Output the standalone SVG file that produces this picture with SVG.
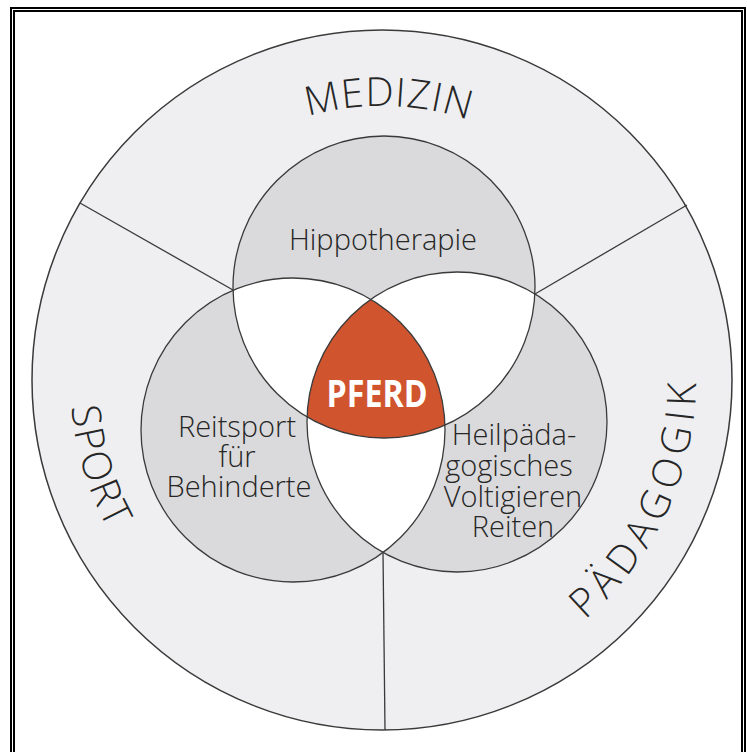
<svg xmlns="http://www.w3.org/2000/svg" width="747" height="752" viewBox="0 0 747 752">
  <style>
    .frame { fill: none; stroke: #000; stroke-width: 2; }
    .outline { fill: none; stroke: #3a3a3a; stroke-width: 1.3; }
    .divider { stroke: #3a3a3a; stroke-width: 1.3; }
    .venn { fill: #dadadc; }
    .overlap { fill: #ffffff; }
    .core { fill: #d0552f; }
    .domain { font-family: "Open Sans", "Noto Sans", "DejaVu Sans", sans-serif; font-weight: 300; font-size: 40px; fill: #262626; }
    .label { font-family: "Open Sans", "Noto Sans", "DejaVu Sans", sans-serif; font-weight: 300; font-size: 29px; fill: #262626; text-anchor: middle; }
    .center { font-family: "Open Sans", "Noto Sans", "DejaVu Sans", sans-serif; font-weight: 700; font-size: 37px; fill: #ffffff; text-anchor: middle; }
  </style>
  <defs>
    <clipPath id="clipA"><circle cx="384" cy="287" r="151"/></clipPath>
    <clipPath id="clipB"><circle cx="293" cy="430" r="152"/></clipPath>
    <!-- baseline arcs for the three domain names, centred on the outer ring -->
    <path id="arcTop" d="M 108,380 A 274 274 0 0 1 656,380"/>
    <path id="arcLeft" d="M 275.3,86.9 A 312 312 0 0 0 275.3,673.1"/>
    <path id="arcRight" d="M 382,694 A 314 314 0 0 0 539,108.1"/>
  </defs>

  <rect x="0" y="0" width="747" height="752" fill="#ffffff"/>

  <!-- double frame, open at the bottom -->
  <polyline class="frame" points="11,752 11,8 745,8 745,752"/>
  <polyline class="frame" points="14,752 14,11 742,11 742,752"/>

  <!-- outer ring -->
  <g id="ring">
    <circle cx="382" cy="380" r="350" fill="#efeff1" stroke="#3a3a3a" stroke-width="1.5"/>
  </g>

  <!-- sector dividers between the three domains -->
  <g id="connectors">
    <line class="divider" x1="80" y1="203" x2="233" y2="290"/>
    <line class="divider" x1="687" y1="205" x2="535" y2="294"/>
    <line class="divider" x1="383" y1="552" x2="385" y2="730"/>
  </g>

  <!-- Venn circles -->
  <g id="venn-fills">
    <circle class="venn" cx="384" cy="287" r="151"/>
    <circle class="venn" cx="293" cy="430" r="152"/>
    <circle class="venn" cx="457" cy="422" r="150"/>
    <circle class="overlap" cx="293" cy="430" r="152" clip-path="url(#clipA)"/>
    <circle class="overlap" cx="457" cy="422" r="150" clip-path="url(#clipA)"/>
    <circle class="overlap" cx="457" cy="422" r="150" clip-path="url(#clipB)"/>
    <g clip-path="url(#clipA)">
      <circle class="core" cx="457" cy="422" r="150" clip-path="url(#clipB)"/>
    </g>
  </g>

  <g id="node-hippotherapie">
    <circle class="outline" cx="384" cy="287" r="151"/>
    <text class="label" x="383" y="250">Hippotherapie</text>
  </g>

  <g id="node-reitsport">
    <circle class="outline" cx="293" cy="430" r="152"/>
    <text class="label" x="237" y="437">Reitsport<tspan x="237" dy="30">für</tspan><tspan x="239" dy="30">Behinderte</tspan></text>
  </g>

  <g id="node-heilpaedagogik">
    <circle class="outline" cx="457" cy="422" r="150"/>
    <text class="label" x="514" y="445">Heilpäda-<tspan x="509" dy="31">gogisches</tspan><tspan x="513" dy="31">Voltigieren</tspan><tspan x="513" dy="30">Reiten</tspan></text>
  </g>

  <g id="node-pferd">
    <text class="center" x="377" y="407" textLength="101" lengthAdjust="spacingAndGlyphs">PFERD</text>
  </g>

  <g id="domain-medizin">
    <text class="domain" letter-spacing="1"><textPath href="#arcTop" startOffset="437" text-anchor="middle">MEDIZIN</textPath></text>
  </g>

  <g id="domain-sport">
    <text class="domain" letter-spacing="2"><textPath href="#arcLeft" startOffset="473" text-anchor="middle">SPORT</textPath></text>
  </g>

  <g id="domain-paedagogik">
    <text class="domain" letter-spacing="6"><textPath href="#arcRight" startOffset="358" text-anchor="middle">PÄDAGOGIK</textPath></text>
  </g>
</svg>
